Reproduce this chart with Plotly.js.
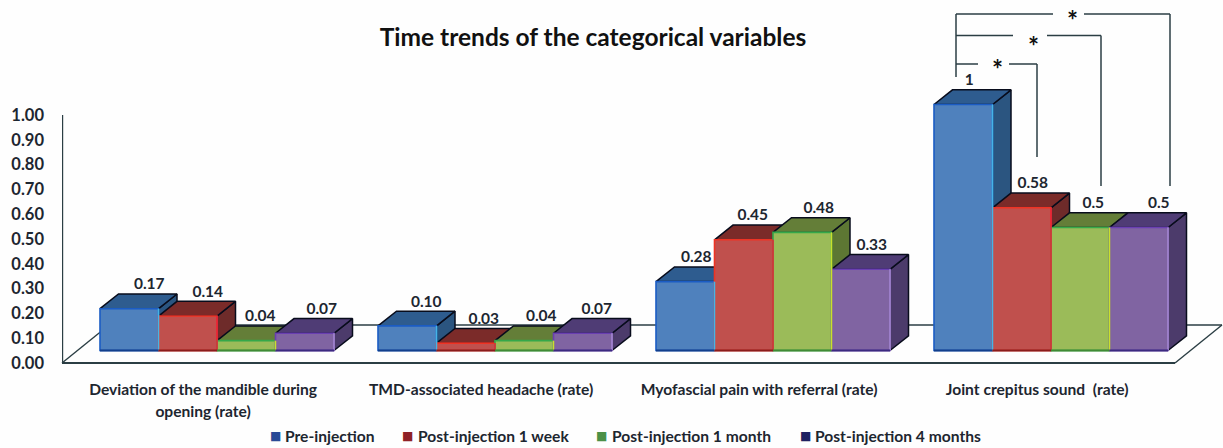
<!DOCTYPE html>
<html><head><meta charset="utf-8">
<script src="https://cdn.plot.ly/plotly-3.0.1.min.js"></script>
<style>html,body{margin:0;padding:0;background:#fefefe}#c{width:1223px;height:448px}</style>
</head><body><div id="c"></div>
<script>
const categories = ["Deviation of the mandible during<br>opening (rate)","TMD-associated headache (rate)","Myofascial pain with referral (rate)","Joint crepitus sound  (rate)"];
const seriesNames = ["Pre-injection","Post-injection 1 week","Post-injection 1 month","Post-injection 4 months"];
const preInjection = [0.17,0.10,0.28,1];
const postWeek = [0.14,0.03,0.45,0.58];
const postMonth = [0.04,0.04,0.48,0.5];
const post4Months = [0.07,0.07,0.33,0.5];
const preLabels = ["0.17","0.10","0.28","1"];
const weekLabels = ["0.14","0.03","0.45","0.58"];
const monthLabels = ["0.04","0.04","0.48","0.5"];
const fourLabels = ["0.07","0.07","0.33","0.5"];
const yTicks = [0,0.1,0.2,0.3,0.4,0.5,0.6,0.7,0.8,0.9,1];
const yTickText = ["0.00","0.10","0.20","0.30","0.40","0.50","0.60","0.70","0.80","0.90","1.00"];

const values = [preInjection,postWeek,postMonth,post4Months];
const labels = [preLabels,weekLabels,monthLabels,fourLabels];
// label nudges in px, per series then per category
const nudge = [[20,19,11,6],[20,18,9,11],[14,17,16.5,13],[17,14,11,20]];

const W=1223,H=448,L=62,R=1222,B=363;
const unitX=278,center0=217,barW=58.5;
const tickUnit=248,barUnit=246,base=350.5,depthX=18.5,depthY=14.7;
const xr=[(L-center0)/unitX,(R-center0)/unitX];
const bw=barW/unitX,dx=depthX/unitX,dy=depthY/barUnit;
const font="Lato, 'Open Sans', sans-serif", ink="#1d2630", rule="#2b3e44";
const style=[
 {front:"#4f81bd",side:"#2b5580",top:"#2e5c8f",edge:"#1b5cc4",edge2:"#45b4e6",low:"#123f8c"},
 {front:"#c0504d",side:"#6e2b2a",top:"#7b2b29",edge:"#ee3324",edge2:"#e8263a",low:"#8a1c1c"},
 {front:"#9bbb59",side:"#5d7733",top:"#647e38",edge:"#35a84a",edge2:"#c9e02c",low:"#3f8a34"},
 {front:"#8064a2",side:"#4c3b6b",top:"#4f3c75",edge:"#6a3fb2",edge2:"#a88cd0",low:"#3c2a80"}];
const swatch=["#2a4a96","#8f2126","#4b9047","#1f2060"];
const px=x=>(x-L)/(R-L), py=y=>1-y/B;

const traces=[];
const left=(s,i)=>i-2*bw+s*bw;
values.forEach((v,s)=>{
  const sx=[],sy=[],tx=[],ty=[];
  v.forEach((h,i)=>{
    const a=left(s,i),b=a+bw;
    sx.push(b,b+dx,b+dx,b,b,null); sy.push(h,h+dy,dy,0,h,null);
    tx.push(a,a+dx,b+dx,b,a,null); ty.push(h,h+dy,h+dy,h,h,null);
  });
  const poly=(x,y,c)=>({type:"scatter",mode:"lines",x,y,xaxis:"x",yaxis:"y2",fill:"toself",fillcolor:c,
    line:{color:"#080c1c",width:1.5},hoverinfo:"skip",showlegend:false});
  traces.push(poly(sx,sy,style[s].side),poly(tx,ty,style[s].top));
});
values.forEach((v,s)=>{
  traces.push({type:"bar",name:seriesNames[s],x:v.map((_,i)=>i),y:v,xaxis:"x",yaxis:"y3",
    marker:{color:style[s].front,line:{color:style[s].edge,width:1.6}},showlegend:false,hoverinfo:"name+y"});
});
values.forEach((v,s)=>{
  const rx=[],ry=[],lx=[],ly=[];
  v.forEach((h,i)=>{
    const a=left(s,i),b=a+bw;
    rx.push(b,b,null); ry.push(0,h,null);
    lx.push(a,b,null); ly.push(0,0,null);
  });
  traces.push({type:"scatter",mode:"lines",x:rx,y:ry,xaxis:"x",yaxis:"y3",line:{color:style[s].edge2,width:1.6},hoverinfo:"skip",showlegend:false});
  traces.push({type:"scatter",mode:"lines",x:lx,y:ly,xaxis:"x",yaxis:"y3",line:{color:style[s].low,width:1.8},hoverinfo:"skip",showlegend:false});
});
values.forEach((v,s)=>{
  traces.push({type:"scatter",mode:"text",x:v.map((_,i)=>left(s,i)+bw/2+nudge[s][i]/unitX),
    y:v.map(h=>h+dy+8.5/barUnit),text:labels[s],textposition:"middle center",cliponaxis:false,
    textfont:{family:font,size:15.5,color:ink,weight:700},xaxis:"x",yaxis:"y3",hoverinfo:"skip",showlegend:false});
});
// keep the tick axis alive on the base subplot
traces.unshift({type:"scatter",mode:"lines",x:[xr[0],xr[0]],y:[0,1],xaxis:"x",yaxis:"y",
  line:{color:rule,width:2.4},hoverinfo:"skip",showlegend:false});

const seg=(x0,y0,x1,y1,w,c,layer)=>({type:"line",xref:"paper",yref:"paper",x0:px(x0),y0:py(y0),x1:px(x1),y1:py(y1),
  line:{color:c||rule,width:w||1.5},layer:layer||"above"});
const shapes=[
  seg(62,363,1175,363,2.2,rule,"below"),
  seg(1175,363,1222,325,1.4,rule,"below"),
  seg(62,363,109,325,1.4,rule,"below"),
  seg(109,325,1222,325,1.4,rule,"below"),
  seg(956,77,956,14),seg(956,14,1053,14),seg(1084,14,1170,14),seg(1170,14,1170,186),
  seg(956,35.5,1013,35.5),seg(1047,35.5,1101,35.5),seg(1101,35.5,1101,186),
  seg(956,64,978,64),seg(1009,64,1037,64),seg(1037,64,1037,157)
];
const star=(x,y)=>({xref:"paper",yref:"paper",x:px(x),y:py(y),text:"*",showarrow:false,xanchor:"center",yanchor:"middle",
  font:{family:font,size:26,color:"#111",weight:700}});
const legendX=[283,416,610,813], swatchX=[275,407,601,805];
const annotations=[star(1072,20),star(1033,46),star(997,69)];
seriesNames.forEach((n,i)=>{
  annotations.push({xref:"paper",yref:"paper",x:px(swatchX[i]),y:py(436),yanchor:"middle",xanchor:"center",showarrow:false,
    text:"■",font:{family:"DejaVu Sans",size:12,color:swatch[i]}});
  annotations.push({xref:"paper",yref:"paper",x:px(legendX[i]),y:py(436),yanchor:"middle",xanchor:"left",showarrow:false,
    text:n,font:{family:font,size:15.6,color:ink,weight:700}});
});
const hidden={showgrid:false,zeroline:false,showticklabels:false,showline:false,ticks:""};
const layout={
  width:W,height:H,margin:{l:L,r:W-R,t:0,b:H-B,autoexpand:false},
  paper_bgcolor:"#fefefe",plot_bgcolor:"rgba(0,0,0,0)",showlegend:false,bargap:1-4*bw,bargroupgap:0,barmode:"group",
  title:{text:"Time trends of the categorical variables",x:593/W,xanchor:"center",y:1-37/H,yanchor:"middle",
    font:{family:font,size:24.5,color:"#111",weight:700}},
  xaxis:{range:xr,tickmode:"array",tickvals:categories.map((_,i)=>i-0.05),
    ticktext:categories.map(c=>c.split("<br>").map(t=>'<span style="font-size:15.6px">'+t+'</span>').join("<br>")),
    tickfont:{family:font,size:17,color:ink,weight:700},showgrid:false,zeroline:false,showline:false,ticks:"",ticklabelstandoff:14,tickangle:0},
  yaxis:{range:[0,B/tickUnit],tickmode:"array",tickvals:yTicks,ticktext:yTickText,tickfont:{family:font,size:16.5,color:ink,weight:700},
    showgrid:false,zeroline:false,showline:false,ticks:"",ticklabelstandoff:17},
  yaxis2:Object.assign({overlaying:"y",range:[(base-B)/barUnit,base/barUnit]},hidden),
  yaxis3:Object.assign({overlaying:"y",range:[(base-B)/barUnit,base/barUnit]},hidden),
  shapes,annotations
};
Plotly.newPlot("c",traces,layout,{displayModeBar:false,staticPlot:true});
</script></body></html>
